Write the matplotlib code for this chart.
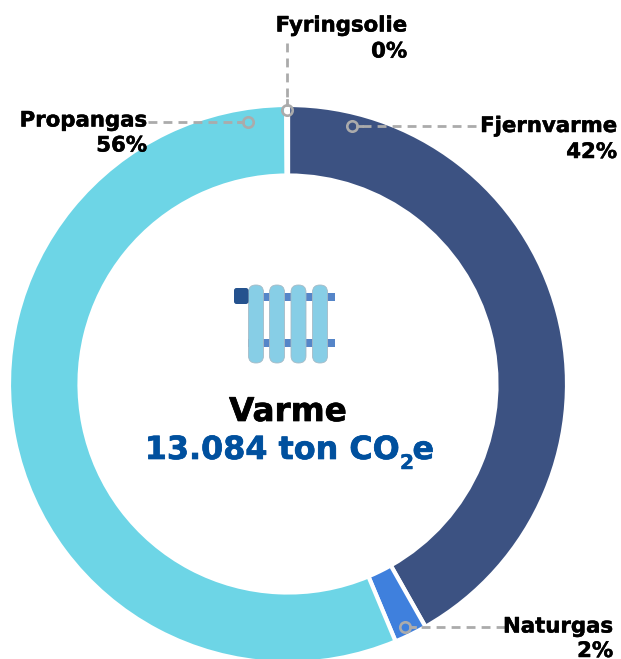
import matplotlib
matplotlib.use("Agg")
import matplotlib.pyplot as plt
import matplotlib.patheffects as pe
from matplotlib.patches import FancyBboxPatch, Rectangle

plt.rcParams['font.family'] = ['DejaVu Sans']

labels = ['Fjernvarme', 'Naturgas', 'Propangas', 'Fyringsolie']
values = [41.8, 1.9, 56.2, 0.1]
shown = ['42%', '2%', '56%', '0%']
colors = ['#3C5282', '#3F80DD', '#6DD5E6', '#6DD5E6']

H = 659
fig = plt.figure(figsize=(6.21, 6.59), dpi=100)
ax = fig.add_axes([0, 0, 1, 1])

ax.pie(values, colors=colors, startangle=90, counterclock=False, center=(288, H - 384), radius=279,
       frame=True, wedgeprops=dict(width=70.5, edgecolor='white', linewidth=3))
ax.set_xlim(0, 621)
ax.set_ylim(0, H)
ax.set_aspect('auto')
ax.axis('off')


# slightly heavier bold, the original font has thicker strokes
def heavy(color, w=0.35):
    return [pe.withStroke(linewidth=w, foreground=color)]


grey = '#ABABAB'
# marker point, end of the line, right edge of text, baseline of name, baseline of percent
leaders = [((352, 125.5), (476, 125.5), 617, 132, 158),
           ((405, 627), (505, 627), 613, 632.5, 657),
           ((247.5, 122), (148, 122), 147, 126.5, 151.5),
           ((287, 110), (287, 43), 407, 31.5, 57.5)]
for (p0, p1, tx, y1, y2), name, pct in zip(leaders, labels, shown):
    dx = (p1[0] > p0[0]) - (p1[0] < p0[0])
    dy = (p1[1] > p0[1]) - (p1[1] < p0[1])
    start = (p0[0] + 5 * dx, p0[1] + 5 * dy)
    ax.plot([p1[0], start[0]], [H - p1[1], H - start[1]], color=grey, lw=2, dashes=(3.2, 2.2), zorder=3)
    ax.plot([start[0], start[0] + 5 * dx], [H - start[1], H - start[1] - 5 * dy], color=grey, lw=2, zorder=3)
    ax.plot(p0[0], H - p0[1], 'o', ms=7.5, mfc='none', mec=grey, mew=1.9, zorder=4)
    ax.text(tx, H - y1, name, ha='right', va='baseline', fontsize=15.3, fontweight='bold', color='black',
            zorder=5, path_effects=heavy('black'))
    ax.text(tx, H - y2, pct, ha='right', va='baseline', fontsize=15.3, fontweight='bold', color='black',
            zorder=5, path_effects=heavy('black'))

# radiator icon
for yy in (297, 343):
    ax.add_patch(Rectangle((248, H - yy - 4), 86.5, 8, color='#5585C8', lw=0, zorder=3))
for xx in (248.5, 269.5, 291, 312.5):
    ax.add_patch(FancyBboxPatch((xx + 7.2, H - 355.8), 0.6, 63.6, boxstyle='round,pad=7.2,rounding_size=7.2',
                                fc='#87CEE6', ec='#A5BAC6', lw=0.6, zorder=4))
ax.add_patch(FancyBboxPatch((235, H - 303), 12.5, 14, boxstyle='round,pad=1,rounding_size=2.5',
                            fc='#25528E', ec='none', zorder=5))

ax.text(288, H - 411.5, 'Varme', ha='center', va='center', fontsize=23.5, fontweight='bold', color='black',
        path_effects=heavy('black', 0.5))
blue = '#00509E'
ax.text(399, H - 450.5, '13.084 ton CO', ha='right', va='center', fontsize=22.9, fontweight='bold', color=blue,
        path_effects=heavy(blue, 0.5))
ax.text(400, H - 463.5, '2', ha='left', va='center', fontsize=14.5, fontweight='bold', color=blue,
        path_effects=heavy(blue))
ax.text(412.5, H - 450.5, 'e', ha='left', va='center', fontsize=22.9, fontweight='bold', color=blue,
        path_effects=heavy(blue, 0.5))

fig.savefig('out.png', dpi=100)
